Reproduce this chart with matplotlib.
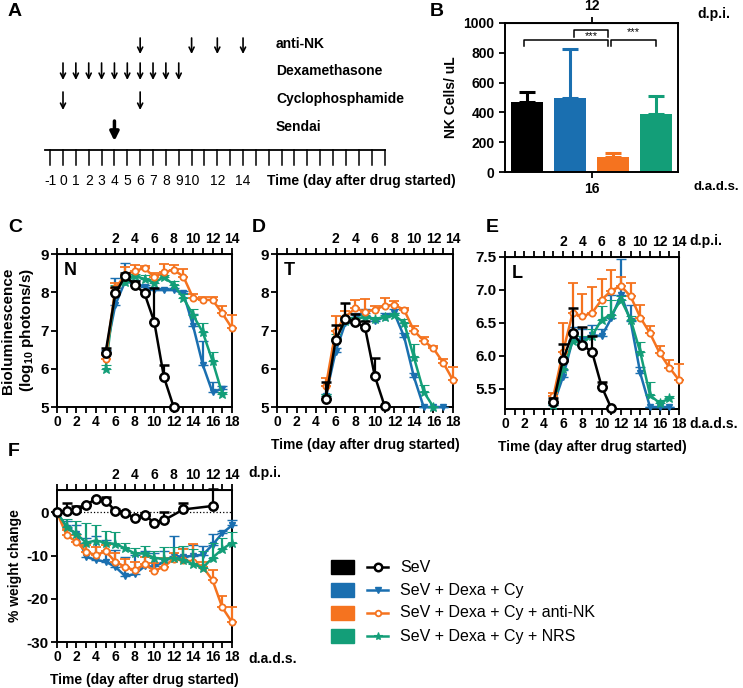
import matplotlib
matplotlib.use('Agg')
import matplotlib.pyplot as plt
from matplotlib.patches import Rectangle
import numpy as np

plt.rcParams['font.family'] = ['Liberation Sans', 'DejaVu Sans']
plt.rcParams['mathtext.fontset'] = 'custom'
plt.rcParams['mathtext.bf'] = 'Liberation Sans:bold'
plt.rcParams['mathtext.rm'] = 'Liberation Sans:bold'

# ---------------- data ----------------
C_SEV, C_DEX, C_ANK, C_NRS = 'black', '#1a6fb0', '#f5731f', '#139e78'
legend_labels = ['SeV', 'SeV + Dexa + Cy', 'SeV + Dexa + Cy + anti-NK', 'SeV + Dexa + Cy + NRS']

# Panel A schedule (day after drug started)
antinNK_days = [6, 10, 12, 14]
dexa_days = [0, 1, 2, 3, 4, 5, 6, 7, 8, 9]
cyclo_days = [0, 6]
sendai_days = [4]
timeline_ticks = list(range(-1, 26))
timeline_labels = [-1, 0, 1, 2, 3, 4, 5, 6, 7, 8, 9, 10, 12, 14]

# Panel B
nk_groups = [0, 1, 2, 3]
nk_values = [470, 500, 100, 390]
nk_errors = [70, 325, 25, 120]

# Panel C (N)
n_sev_d = [5, 6, 7, 8, 9, 10, 11, 12]
n_sev = [6.42, 7.97, 8.42, 8.2, 7.97, 7.23, 5.78, 5.0]
n_sev_e = [0.13, 0.18, 0.08, 0.1, 0.05, 0.87, 0.32, 0]
n_dex_d = [5, 6, 7, 8, 9, 10, 11, 12, 13, 14, 15, 16, 17]
n_dex = [6.4, 7.67, 8.28, 8.23, 8.15, 8.06, 8.06, 8.06, 7.97, 7.12, 6.1, 5.38, 5.48]
n_dex_e = [0.1, 0.7, 0.48, 0.1, 0.05, 0.05, 0.05, 0.05, 0.05, 0.3, 0.62, 0.28, 0.06]
n_nrs_d = [5, 6, 7, 8, 9, 10, 11, 12, 13, 14, 15, 16, 17]
n_nrs = [6.0, 8.1, 8.28, 8.42, 8.35, 8.25, 8.4, 8.2, 7.85, 7.4, 6.95, 6.2, 5.35]
n_nrs_e = [0.1, 0.1, 0.1, 0.05, 0.1, 0.1, 0.05, 0.1, 0.1, 0.15, 0.25, 0.25, 0.05]
n_ank_d = [5, 6, 7, 8, 9, 10, 11, 12, 13, 14, 15, 16, 17, 18]
n_ank = [6.25, 8.1, 8.45, 8.56, 8.63, 8.4, 8.52, 8.59, 8.41, 7.85, 7.8, 7.8, 7.45, 7.06]
n_ank_e = [0.1, 0.15, 0.2, 0.15, 0.05, 0.1, 0.22, 0.12, 0.2, 0.1, 0.08, 0.08, 0.18, 0.34]

# Panel D (T)
t_sev_d = [5, 6, 7, 8, 9, 10, 11]
t_sev = [5.22, 6.75, 7.3, 7.23, 7.08, 5.81, 5.03]
t_sev_e = [0.44, 0.39, 0.41, 0.2, 0.18, 0.47, 0]
t_dex_d = [5, 6, 7, 8, 9, 10, 11, 12, 13, 14, 15, 16, 17]
t_dex = [5.3, 6.45, 7.2, 7.35, 7.45, 7.25, 7.35, 7.45, 6.84, 5.79, 5.0, 5.0, 5.0]
t_dex_e = [0.05, 0.1, 0.1, 0.1, 0.1, 0.05, 0.1, 0.1, 0.1, 0.1, 0, 0, 0]
t_nrs_d = [5, 6, 7, 8, 9, 10, 11, 12, 13, 14, 15, 16]
t_nrs = [5.3, 6.8, 7.25, 7.3, 7.35, 7.3, 7.35, 7.4, 7.2, 6.3, 5.4, 5.0]
t_nrs_e = [0.05, 0.1, 0.1, 0.05, 0.05, 0.05, 0.05, 0.05, 0.1, 0.34, 0.17, 0]
t_ank_d = [5, 6, 7, 8, 9, 10, 11, 12, 13, 14, 15, 16, 17, 18]
t_ank = [5.55, 7.0, 7.36, 7.58, 7.49, 7.54, 7.65, 7.67, 7.54, 7.0, 6.73, 6.53, 6.16, 5.7]
t_ank_e = [0.2, 0.38, 0.14, 0.22, 0.33, 0.1, 0.2, 0.11, 0.06, 0.12, 0.1, 0.07, 0.09, 0.35]

# Panel E (L)
l_sev_d = [5, 6, 7, 8, 9, 10, 11]
l_sev = [5.29, 5.94, 6.34, 6.16, 6.06, 5.53, 5.2]
l_sev_e = [0.06, 0.24, 0.39, 0.28, 0.24, 0.07, 0]
l_dex_d = [5, 6, 7, 8, 9, 10, 11, 12, 13, 14, 15, 16, 17]
l_dex = [5.25, 5.68, 6.24, 6.24, 6.31, 6.3, 6.57, 6.93, 6.52, 5.73, 5.22, 5.22, 5.22]
l_dex_e = [0.03, 0.1, 0.2, 0.16, 0.15, 0.1, 0.36, 0.54, 0.25, 0.1, 0, 0, 0]
l_nrs_d = [5, 6, 7, 8, 9, 10, 11, 12, 13, 14, 15, 16, 17]
l_nrs = [5.25, 5.8, 6.22, 6.2, 6.3, 6.55, 6.62, 6.85, 6.55, 6.05, 5.4, 5.28, 5.35]
l_nrs_e = [0.03, 0.1, 0.1, 0.1, 0.1, 0.2, 0.23, 0.05, 0.05, 0.16, 0.2, 0.05, 0.03]
l_ank_d = [5, 6, 7, 8, 9, 10, 11, 12, 13, 14, 15, 16, 17, 18]
l_ank = [5.38, 6.06, 6.65, 6.6, 6.65, 6.85, 6.99, 7.06, 6.9, 6.58, 6.34, 6.04, 5.82, 5.63]
l_ank_e = [0.05, 0.43, 0.45, 0.34, 0.39, 0.32, 0.32, 0.14, 0.2, 0.19, 0.11, 0.1, 0.11, 0.25]

# Panel F (% weight change)
w_sev_d = [0, 1, 2, 3, 4, 5, 6, 7, 8, 9, 10, 11, 13, 16]
w_sev = [0, 0.3, 0.5, 1.7, 3.2, 2.7, 0.4, -0.1, -1.25, -0.5, -2.4, -1.8, 0.7, 1.5]
w_sev_e = [0, 2.0, 1.0, 0.3, 0.2, 0.8, 0.3, 0.4, 0.4, 0.3, 0.4, 2.0, 1.5, 4.0]
w_days = list(range(0, 19))
w_dex = [0, -3.5, -5.0, -10.3, -11.0, -11.4, -12.6, -14.7, -14.3, -12.5, -12.5, -11.5,
         -10.0, -10.3, -10.0, -9.8, -7.5, -4.8, -3.0]
w_dex_e = [0, 1.5, 2.0, 4.5, 5.5, 5.0, 4.0, 4.5, 4.5, 3.5, 3.0, 2.5, 4.5, 2.0, 2.5, 2.0, 2.5, 0.6, 1.3]
w_ank = [0, -5.3, -6.8, -9.1, -9.9, -9.0, -11.4, -12.6, -13.4, -12.0, -13.5, -12.6,
         -10.7, -11.0, -11.4, -12.6, -15.7, -22.0, -25.4]
w_ank_e = [0, 1.2, 1.5, 1.6, 1.9, 1.5, 1.9, 1.8, 1.9, 1.8, 1.7, 2.1, 1.2, 2.5, 4.2, 1.1, 2.4, 2.7, 3.4]
w_nrs = [0, -3.3, -5.0, -7.0, -6.5, -7.0, -7.3, -8.3, -9.5, -9.5, -10.5, -10.8,
         -10.5, -11.0, -12.0, -12.8, -10.5, -8.5, -7.0]
w_nrs_e = [0, 1.8, 3.0, 4.5, 3.7, 2.7, 2.8, 1.3, 1.2, 1.7, 1.5, 2.8, 2.5, 3.2, 3.5, 3.8, 3.5, 2.5, 2.5]

# ---------------- figure ----------------
W, H = 743, 688
fig = plt.figure(figsize=(W / 100, H / 100), dpi=100)


def px_axes(l, t, r, b):
    return fig.add_axes([l / W, 1 - b / H, (r - l) / W, (b - t) / H])


def ftext(x, y, s, **kw):
    kw.setdefault('fontweight', 'bold')
    fig.text(x / W, 1 - y / H, s, **kw)


STY = {
    'sev': dict(color=C_SEV, marker='o', mfc='white', ms=6, mew=1.8),
    'dex': dict(color=C_DEX, marker='v', mfc=C_DEX, ms=5, mew=1.0),
    'ank': dict(color=C_ANK, marker='o', mfc='white', ms=4.5, mew=1.3),
    'nrs': dict(color=C_NRS, marker='*', mfc=C_NRS, ms=6.5, mew=0.8),
}

# ---------------- Panel A ----------------
axA = px_axes(0, 0, 420, 200)
x0, dx = 63.0, 12.86
axA.set_xlim(-x0 / dx, (420 - x0) / dx)
axA.set_ylim(200, 0)
axA.axis('off')
axA.plot([-1.4, timeline_ticks[-1]], [150, 150], color='black', lw=1.3)
for d in timeline_ticks:
    axA.plot([d, d], [150, 165], color='black', lw=1.1)
for d in timeline_labels:
    axA.text(d, 181, str(d), ha='center', va='center', fontsize=10)
axA.text((267 - x0) / dx, 181, 'Time (day after drug started)', ha='left', va='center',
         fontsize=10, fontweight='bold')


def arrows(days, y0, y1, **kw):
    for d in days:
        axA.annotate('', xy=(d, y1), xytext=(d, y0), arrowprops=kw)


thin = dict(arrowstyle='->', lw=1.2, color='black', mutation_scale=9, shrinkA=0, shrinkB=0)
arrows(antinNK_days, 38, 54, **thin)
arrows(dexa_days, 63, 80, **thin)
arrows(cyclo_days, 92, 110, **thin)
arrows(sendai_days, 121, 141, arrowstyle='-|>', lw=2.5, color='black', mutation_scale=13,
       shrinkA=0, shrinkB=0)
for lab, y in [('anti-NK', 44), ('Dexamethasone', 71), ('Cyclophosphamide', 99), ('Sendai', 127)]:
    axA.text((276 - x0) / dx, y, lab, ha='left', va='center', fontsize=10, fontweight='bold')

ftext(8, 12, 'A', fontsize=14, va='center')

# ---------------- Panel B ----------------
axB = px_axes(505, 23, 678, 172)
bar_colors = [C_SEV, C_DEX, C_ANK, C_NRS]
axB.bar(nk_groups, nk_values, width=0.74, color=bar_colors, zorder=2)
for g, v, e, c in zip(nk_groups, nk_values, nk_errors, bar_colors):
    axB.errorbar([g], [v], yerr=[[0], [e]], fmt='none', ecolor=c, elinewidth=2.2,
                 capsize=6, capthick=2.2, zorder=1)
axB.set_xlim(-0.5, 3.5)
axB.set_ylim(0, 1000)
axB.set_yticks(range(0, 1001, 200))
axB.set_xticks([1.5])
axB.set_xticklabels(['16'])
for lbl in axB.get_yticklabels() + axB.get_xticklabels():
    lbl.set_fontweight('bold')
    lbl.set_fontsize(10)
axB.tick_params(width=1.3, length=4)
for s in axB.spines.values():
    s.set_linewidth(1.4)
secB = axB.secondary_xaxis('top')
secB.set_xticks([1.5])
secB.set_xticklabels(['12'], fontweight='bold', fontsize=10)
secB.tick_params(width=1.3, length=4)
axB.set_ylabel('NK Cells/ uL', fontsize=10, fontweight='bold', labelpad=4)


def bracket(a, b, ytop, ydrop, stars, sy):
    axB.plot([a, a, b, b], [ytop - ydrop, ytop, ytop, ytop - ydrop], color='black', lw=1.1,
             clip_on=False)
    axB.text((a + b) / 2, sy, stars, ha='center', va='center', fontsize=8)


bracket(nk_groups[0] - 0.06, nk_groups[2] - 0.11, 885, 40, '', 0)
bracket(nk_groups[1] + 0.1, nk_groups[2] - 0.11, 950, 45, '***', 915)
bracket(nk_groups[2] - 0.05, nk_groups[3] - 0.01, 885, 40, '***', 940)
ftext(697, 14, 'd.p.i.', fontsize=10, va='center')
ftext(694, 187, 'd.a.d.s.', fontsize=9.5, va='center')
ftext(430, 11, 'B', fontsize=14, va='center')


# ---------------- Panels C, D, E ----------------
def style_time_axes(ax):
    ax.set_xlim(0, 18)
    ax.set_xticks(range(0, 19))
    ax.set_xticklabels([str(d) if d % 2 == 0 else '' for d in range(0, 19)])
    for lbl in ax.get_xticklabels() + ax.get_yticklabels():
        lbl.set_fontweight('bold')
        lbl.set_fontsize(10)
    ax.tick_params(width=1.3, length=4, pad=2)
    for s in ax.spines.values():
        s.set_linewidth(1.4)
    sec = ax.secondary_xaxis('top', functions=(lambda x: x - 4, lambda x: x + 4))
    sec.set_xticks(range(-4, 15))
    sec.set_xticklabels([str(d) if (d >= 2 and d % 2 == 0) else '' for d in range(-4, 15)],
                        fontweight='bold', fontsize=10)
    sec.tick_params(width=1.3, length=4, pad=2)
    return sec


def draw_series(ax, d, v, e, key, z):
    st = STY[key]
    ax.errorbar(d, v, yerr=[np.zeros(len(e)), e], color=st['color'], lw=1.8,
                elinewidth=1.6, capsize=3.5, capthick=1.6, marker=st['marker'],
                mfc=st['mfc'], mec=st['color'], ms=st['ms'], mew=st['mew'],
                zorder=z, clip_on=False)


def bio_panel(box, series, ylim, yticks, ytlabels, letter):
    ax = px_axes(*box)
    for i, (d, v, e, key) in enumerate(series):
        draw_series(ax, d, v, e, key, 3 + i)
    style_time_axes(ax)
    ax.set_ylim(*ylim)
    ax.set_yticks(yticks)
    ax.set_yticklabels(ytlabels, fontweight='bold', fontsize=11)
    ax.text(0.04, 0.95, letter, transform=ax.transAxes, ha='left', va='top',
            fontsize=13, fontweight='bold')
    return ax


axC = bio_panel((57, 254, 232, 407),
                [(n_dex_d, n_dex, n_dex_e, 'dex'), (n_nrs_d, n_nrs, n_nrs_e, 'nrs'),
                 (n_ank_d, n_ank, n_ank_e, 'ank'), (n_sev_d, n_sev, n_sev_e, 'sev')],
                (5, 9), [5, 6, 7, 8, 9], ['5', '6', '7', '8', '9'], 'N')
axC.set_ylabel('Bioluminescence\n' + r'(log$_{\mathbf{10}}$ photons/s)', fontsize=11,
               fontweight='bold', labelpad=3)

axD = bio_panel((277, 254, 453, 407),
                [(t_dex_d, t_dex, t_dex_e, 'dex'), (t_nrs_d, t_nrs, t_nrs_e, 'nrs'),
                 (t_ank_d, t_ank, t_ank_e, 'ank'), (t_sev_d, t_sev, t_sev_e, 'sev')],
                (5, 9), [5, 6, 7, 8, 9], ['5', '6', '7', '8', '9'], 'T')
axD.set_xlabel('Time (day after drug started)', fontsize=10, fontweight='bold', labelpad=6)

axE = bio_panel((505, 257, 679, 409),
                [(l_dex_d, l_dex, l_dex_e, 'dex'), (l_nrs_d, l_nrs, l_nrs_e, 'nrs'),
                 (l_ank_d, l_ank, l_ank_e, 'ank'), (l_sev_d, l_sev, l_sev_e, 'sev')],
                (5.19, 7.5), [5.5, 6.0, 6.5, 7.0, 7.5], ['5.5', '6.0', '6.5', '7.0', '7.5'], 'L')
axE.set_xlabel('Time (day after drug started)', fontsize=10, fontweight='bold', labelpad=6)

ftext(8, 228, 'C', fontsize=14, va='center')
ftext(252, 228, 'D', fontsize=14, va='center')
ftext(486, 228, 'E', fontsize=14, va='center')
ftext(689, 241, 'd.p.i.', fontsize=10, va='center')
ftext(689, 424, 'd.a.d.s.', fontsize=10, va='center')

# ---------------- Panel F ----------------
axF = px_axes(57, 490, 232, 642)
axF.axhline(0, ls=':', color='black', lw=0.9, zorder=1)
draw_series(axF, w_days, w_dex, w_dex_e, 'dex', 3)
draw_series(axF, w_days, w_ank, w_ank_e, 'ank', 4)
draw_series(axF, w_days, w_nrs, w_nrs_e, 'nrs', 5)
draw_series(axF, w_sev_d, w_sev, w_sev_e, 'sev', 6)
style_time_axes(axF)
axF.set_ylim(-30, 5.2)
axF.set_yticks([0, -10, -20, -30])
axF.set_yticklabels(['0', '-10', '-20', '-30'], fontweight='bold', fontsize=11)
axF.set_ylabel('% weight change', fontsize=10, fontweight='bold', labelpad=3)
axF.set_xlabel('Time (day after drug started)', fontsize=10, fontweight='bold', labelpad=6)
ftext(8, 452, 'F', fontsize=14, va='center')
ftext(248, 473, 'd.p.i.', fontsize=10, va='center')
ftext(248, 659, 'd.a.d.s.', fontsize=10, va='center')

# ---------------- Legend ----------------
axL = px_axes(320, 550, 743, 650)
axL.set_xlim(320, 743)
axL.set_ylim(650, 550)
axL.axis('off')
for i, (lab, key) in enumerate(zip(legend_labels, ['sev', 'dex', 'ank', 'nrs'])):
    y = 567 + i * 23
    st = STY[key]
    axL.add_patch(Rectangle((331, y - 7), 23, 14, color=st['color']))
    axL.plot([367, 388], [y, y], color=st['color'], lw=1.8)
    axL.plot([377.5], [y], marker=st['marker'], mfc=st['mfc'], mec=st['color'],
             ms=st['ms'] * 0.9, mew=st['mew'], color=st['color'])
    axL.text(400, y, lab, ha='left', va='center', fontsize=11.5)

fig.savefig('out.png', dpi=100)
